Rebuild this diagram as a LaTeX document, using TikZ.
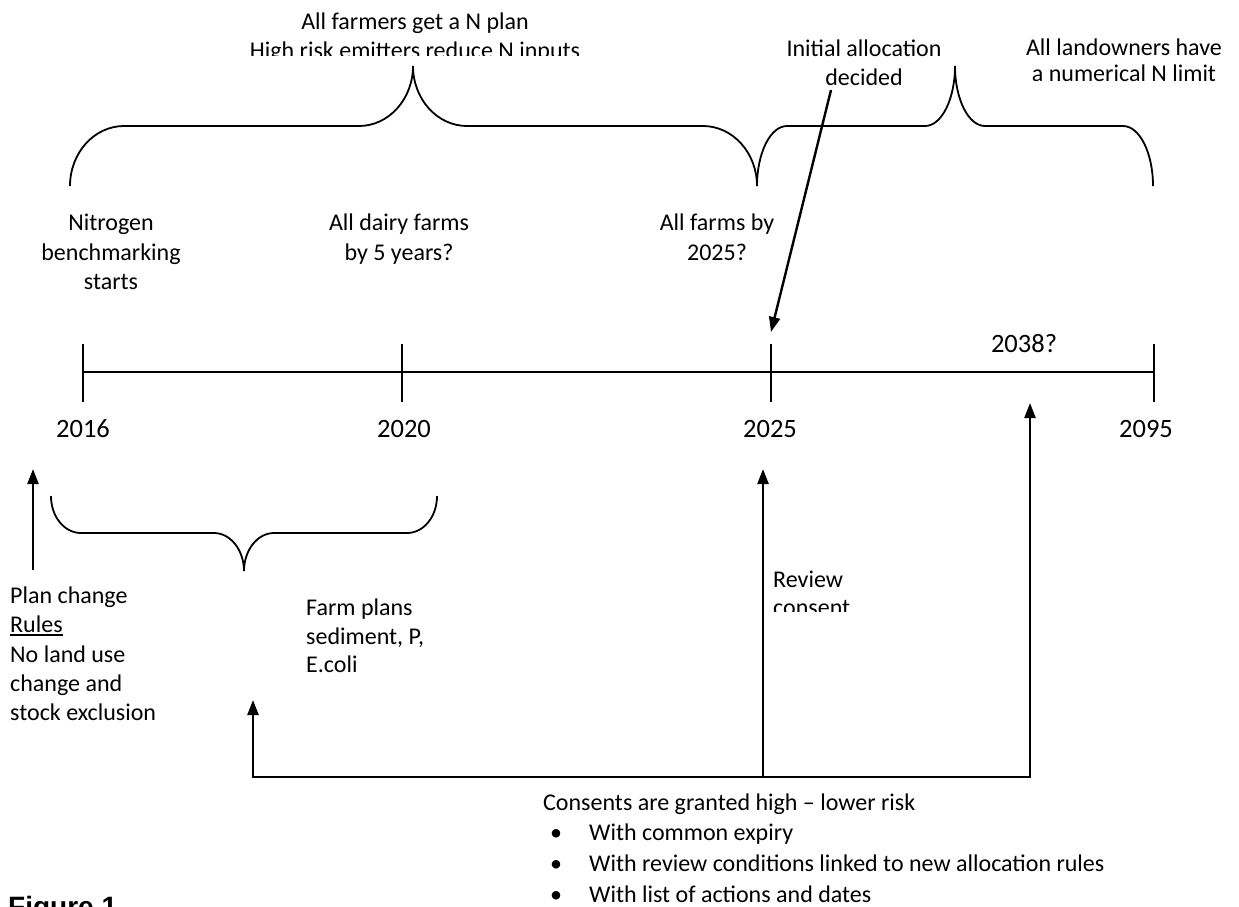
\documentclass[tikz,border=0pt]{standalone}
\usepackage{fontspec}
\setmainfont{Carlito}
\newfontfamily\figfont{Liberation Sans}
\usetikzlibrary{arrows.meta}
\begin{document}
\begin{tikzpicture}[x=1pt,y=-1pt,
  txt/.style={font=\fontsize{24}{29}\selectfont, inner sep=0pt, anchor=base},
  txtl/.style={txt, anchor=base west},
  yr/.style={font=\fontsize{26.5}{31}\selectfont, inner sep=0pt, anchor=base},
  brace/.style={line width=1.8pt},
  axis/.style={line width=2.2pt},
  tickline/.style={line width=1.8pt},
  arr/.style={line width=2.4pt, -{Triangle[length=15pt,width=11pt]}},
  arrboth/.style={line width=2.4pt, {Triangle[length=15pt,width=11pt]}-{Triangle[length=15pt,width=11pt]}},
]
\useasboundingbox (0,0) rectangle (1239,906);
\clip (0,0) rectangle (1239,906);

% ---- top texts
\node[txt] (t1a) at (415,29) {All farmers get a N plan};
\begin{scope}
  \clip (0,0) rectangle (1239,55);
  \node[txt] (t1b) at (415,58) {High risk emitters reduce N inputs};
\end{scope}
\node[txt] (t2a) at (864,56) {Initial allocation};
\node[txt] (t2b) at (864,85) {decided};
\node[txt] (t3a) at (1124,55) {All landowners have};
\node[txt] (t3b) at (1124,81) {a numerical N limit};

% ---- top braces
\draw[brace] (70,186) .. controls (70,152.9) and (94.2,126) .. (124,126)
  -- (359,126) .. controls (388.8,126) and (413,99.1) .. (413,66)
  .. controls (413,99.1) and (437.2,126) .. (467,126)
  -- (703,126) .. controls (732.8,126) and (757,152.9) .. (757,186);
\draw[brace] (757,186) .. controls (757,152.9) and (770.4,126) .. (787,126)
  -- (925,126) .. controls (941.6,126) and (955,99.1) .. (955,66)
  .. controls (955,99.1) and (968.4,126) .. (985,126)
  -- (1123,126) .. controls (1139.6,126) and (1153,152.9) .. (1153,186);

% ---- milestone texts
\node[txt] (n1) at (111,230) {Nitrogen};
\node[txt] (n2) at (111,260) {benchmarking};
\node[txt] (n3) at (111,289) {starts};
\node[txt] (d1) at (399,230) {All dairy farms};
\node[txt] (d2) at (399,260) {by 5 years?};
\node[txt] (f1) at (717,230) {All farms by};
\node[txt] (f2) at (717,260) {2025?};

% ---- timeline
\coordinate (tA) at (83,372);
\coordinate (tB) at (402,372);
\coordinate (tC) at (771,372);
\coordinate (tD) at (1154,372);
\draw[axis] (tA) -- (tD);
\foreach \p in {tA,tB,tC,tD}{
  \draw[tickline] ([yshift=28pt]\p) -- ([yshift=-30pt]\p);
}
\node[yr] (y16) at (83,437) {2016};
\node[yr] (y20) at (404,437) {2020};
\node[yr] (y25) at (770,437) {2025};
\node[yr] (y95) at (1146,437) {2095};
\node[yr] (y38) at (1024,352) {2038?};

% ---- allocation arrow
\coordinate (allocS) at (831,90);
\coordinate (allocT) at (771,332);
\draw[arr] (allocS) -- (allocT);

% ---- left arrow and lower brace
\coordinate (pcS) at (33,570);
\coordinate (pcT) at (33,469);
\draw[arr] (pcS) -- (pcT);
\draw[brace] (51,496) .. controls (51,516.7) and (64.4,533) .. (81,533)
  -- (214,533) .. controls (230.6,533) and (244,550.3) .. (244,571)
  .. controls (244,550.3) and (257.4,533) .. (274,533)
  -- (407,533) .. controls (423.6,533) and (437,516.7) .. (437,496);

\node[txtl] (p1) at (10,603) {Plan change};
\node[txtl] (p2) at (10,632) {Rules};
\draw[line width=1.5pt] ([yshift=-3pt]p2.base west) -- ([yshift=-3pt]p2.base east);
\node[txtl] (p3) at (10,662) {No land use};
\node[txtl] (p4) at (10,691) {change and};
\node[txtl] (p5) at (10,720) {stock exclusion};

\node[txtl] (fp1) at (306,615) {Farm plans};
\node[txtl] (fp2) at (306,644) {sediment, P,};
\node[txtl] (fp3) at (306,672) {E.coli};

\node[txtl] (r1) at (773,587) {Review};
\begin{scope}
  \clip (700,590) rectangle (900,611);
  \node[txtl] (r2) at (773,615) {consent};
\end{scope}

% ---- bottom connector
\coordinate (fpT) at (253,700);
\coordinate (fpC) at (253,777);
\coordinate (rvC) at (1030,777);
\coordinate (rvT) at (1030,403);
\coordinate (mdC) at (763,777);
\coordinate (mdT) at (763,469);
\draw[arrboth,line join=miter] (fpT) -- (fpC) -- (rvC) -- (rvT);
\draw[arr] (mdC) -- (mdT);

% ---- bottom list
\node[txtl] (c0) at (543,810) {Consents are granted high – lower risk};
\node[txt] (b1) at (556,840) {•};
\node[txtl] (c1) at (589,840) {With common expiry};
\node[txt] (b2) at (556,871) {•};
\node[txtl] (c2) at (589,871) {With review conditions linked to new allocation rules};
\node[txt] (b3) at (556,902) {•};
\node[txtl] (c3) at (589,902) {With list of actions and dates};

\node[font=\figfont\bfseries\fontsize{28}{33}\selectfont, inner sep=0pt, anchor=base west] (fig) at (8,916) {Figure 1};
\end{tikzpicture}
\end{document}
